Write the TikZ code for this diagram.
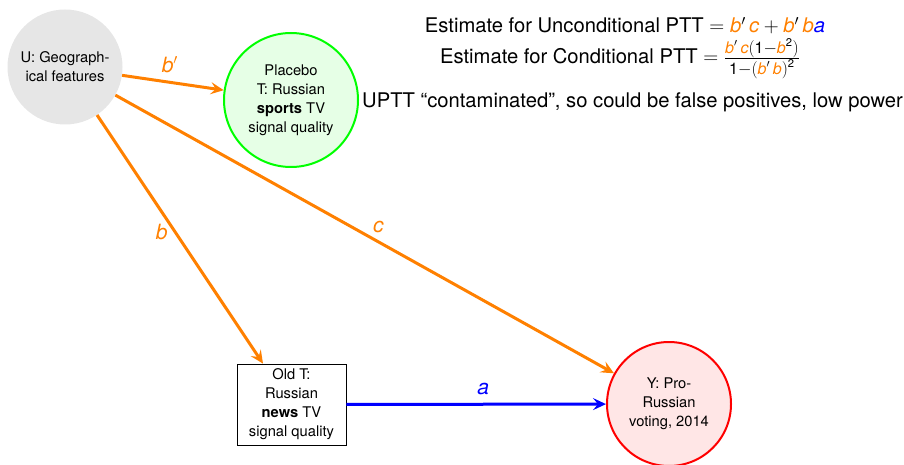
\documentclass[tikz,border=0pt]{standalone}
\usepackage{amsmath}
\usepackage{fontspec}
\setmainfont{TeX Gyre Heros}
\usetikzlibrary{arrows.meta}
\definecolor{orng}{RGB}{255,128,0}
\definecolor{lgray}{RGB}{230,230,230}
\definecolor{lgreen}{RGB}{230,255,230}
\definecolor{lred}{RGB}{255,230,230}
\newcommand{\ov}[1]{\textcolor{orng}{\text{\itshape #1}}}
\newcommand{\bv}[1]{\textcolor{blue}{\text{\itshape #1}}}
% numerator and denominator of the conditional estimate, set a little larger than script size
\newcommand{\fracpart}[1]{\mbox{\fontsize{16}{18}\selectfont$#1$}}
\begin{document}
\begin{tikzpicture}[x=1pt,y=1pt,
  nodetext/.style={font=\fontsize{14.7}{19}\selectfont, align=center, inner sep=0pt},
  bigtext/.style={font=\fontsize{20.2}{24}\selectfont, inner sep=0pt},
  edge/.style={line width=3pt, -{Stealth[length=13pt,width=12pt,inset=5pt]}},
  elabel/.style={font=\fontsize{21}{24}\selectfont\itshape, inner sep=0pt}]
\useasboundingbox (0,0) rectangle (904,-465);
% variables
\node[nodetext, circle, fill=lgray, minimum size=115pt] (U) at (65,-67) {U: Geograph-\\ical features};
\node[nodetext, circle, fill=lgreen, draw=green, line width=2pt, minimum size=134pt] (P) at (291,-100) {Placebo\\T: Russian\\\textbf{sports} TV\\signal quality};
\node[nodetext, draw=black, line width=0.8pt, minimum width=109pt, minimum height=81pt] (T) at (291.5,-404.5) {Old T:\\Russian\\\textbf{news} TV\\signal quality};
\node[nodetext, circle, fill=lred, draw=red, line width=2pt, minimum size=124pt] (Y) at (669,-404) {Y: Pro-\\Russian\\voting, 2014};
% paths
\draw[edge, orng] (U) -- node[elabel, above=8pt, pos=0.47] {b$'$} (P);
\draw[edge, orng] (U) -- node[elabel, above right=3pt, pos=0.5, xshift=4pt, yshift=-3pt] {c} (Y);
\draw[edge, orng] (U) -- node[elabel, left=6pt, pos=0.47] {b} (T.north west -| 263,0);
\draw[edge, blue] (T) -- node[elabel, above=8pt, xshift=7pt] {a} (Y);
% estimates
\node[bigtext, anchor=base] (e1) at (625,-33) {Estimate for Unconditional PTT $= \ov{b}'\,\ov{c} + \ov{b}'\,\ov{b}\bv{a}$};
\node[bigtext, anchor=base] (e2) at (620,-64) {Estimate for Conditional PTT $= \frac{\fracpart{\ov{b}'\,\ov{c}(\text{1}{-}\ov{b}^{\text{2}})}}{\fracpart{\text{1}{-}(\ov{b}'\,\ov{b})^{\text{2}}}}$};
\node[bigtext, anchor=base west] (e3) at (362,-108) {UPTT “contaminated”, so could be false positives, low power};
\end{tikzpicture}
\end{document}
